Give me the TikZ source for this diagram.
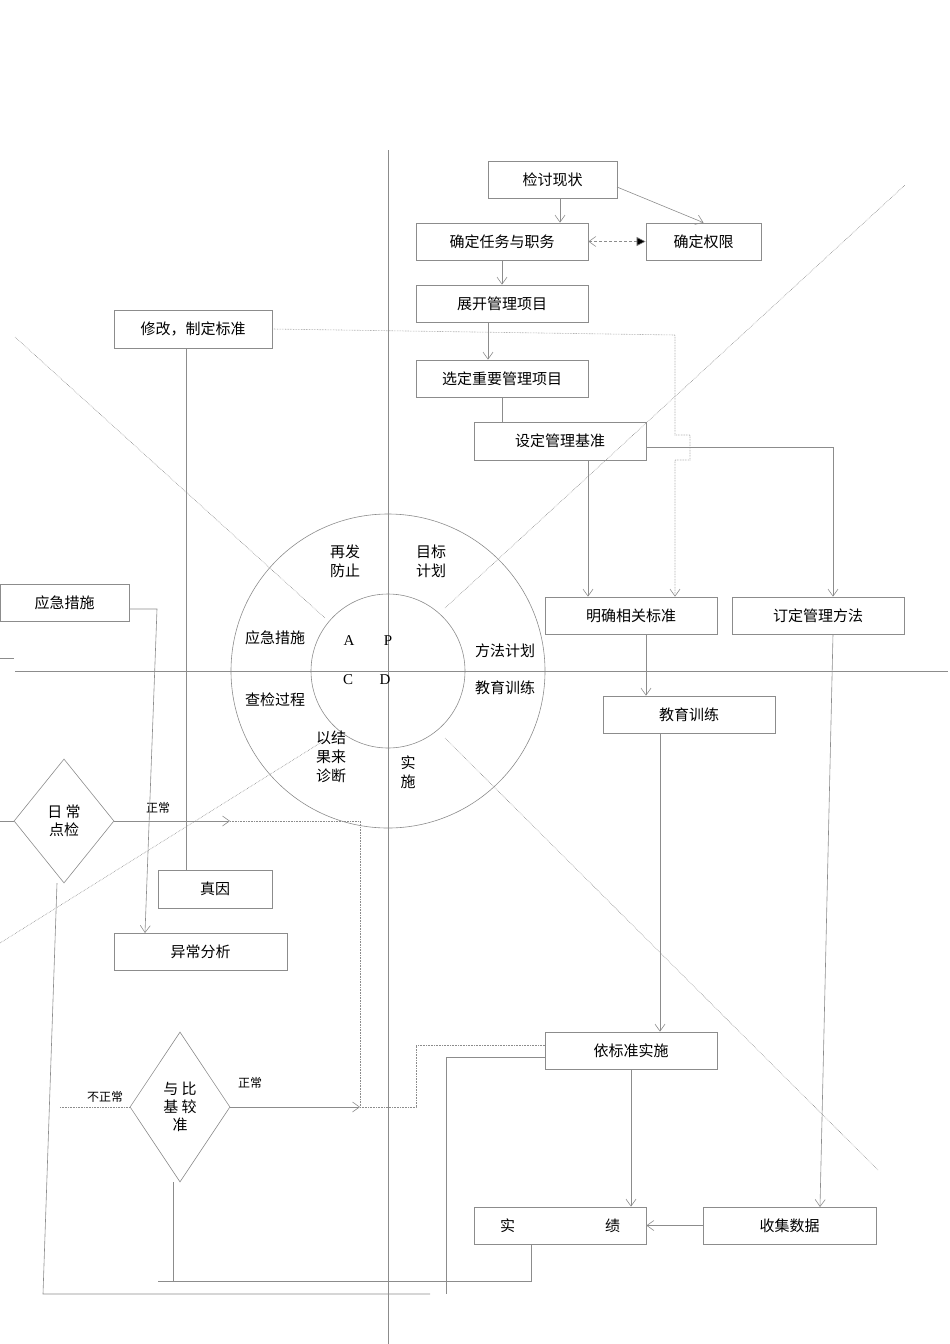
\documentclass[tikz,border=0pt]{standalone}
\usepackage{fontspec}
\setmainfont{Liberation Serif}
\newfontfamily\cjk{Noto Sans CJK SC}
\usetikzlibrary{arrows.meta,shapes.geometric}
\begin{document}
\begin{tikzpicture}[x=1pt,y=-1pt,
 ln/.style={draw=black!45,line width=0.6pt},
 dl/.style={draw=black!45,line width=0.6pt,densely dotted},
 ar/.style={-{Straight Barb[length=7pt,width=10pt]}},
 bx/.style={draw=black!45,line width=0.7pt,inner sep=0pt,font=\cjk\fontsize{15}{17}\selectfont},
 dm/.style={draw=black!45,line width=0.6pt,diamond,inner sep=0pt,font=\cjk\fontsize{15}{18}\selectfont,align=center},
 tx/.style={font=\cjk\fontsize{15}{19}\selectfont,align=center},
 sm/.style={font=\cjk\fontsize{12}{14}\selectfont}]
\useasboundingbox (0,0) rectangle (950,1344);
% axes and diagonals
\draw[ln] (388,150) -- (388,1344);
\draw[ln] (15,671) -- (948,671);
\draw[ln] (0,658) -- (14,658);
\draw[dl] (15,337) -- (325,618);
\draw[dl] (445,738) -- (878,1170);
\draw[dl] (445,608) -- (905,185);
\draw[dl] (325,740) -- (0,943);
\draw[ln] (388,671) circle (157);
\draw[ln] (388,671) circle (77);
% circle texts
\node[tx] (c1) at (345,561) {再发\\防止};
\node[tx] (c2) at (431,561) {目标\\计划};
\node[tx] (c3) at (275,638) {应急措施};
\node[tx] (c4) at (275,700) {查检过程};
\node[tx] (c5) at (505,651) {方法计划};
\node[tx] (c6) at (505,688) {教育训练};
\node[tx] (c7) at (331,757) {以结\\果来\\诊断};
\node[tx] (c8) at (408,772) {实\\施};
\node[font=\fontsize{15}{17}\selectfont] (lA) at (349,641) {A};
\node[font=\fontsize{15}{17}\selectfont] (lP) at (388,641) {P};
\node[font=\fontsize{15}{17}\selectfont] (lC) at (348,680) {C};
\node[font=\fontsize{15}{17}\selectfont] (lD) at (385,680) {D};
% boxes
\node[bx,minimum width=129,minimum height=37] (b1) at (552.5,179.5) {检讨现状};
\node[bx,minimum width=172,minimum height=37] (b2) at (502,241.5) {确定任务与职务};
\node[bx,minimum width=115,minimum height=37] (b3) at (703.5,241.5) {确定权限};
\node[bx,minimum width=172,minimum height=37] (b4) at (502,303.5) {展开管理项目};
\node[bx,minimum width=172,minimum height=37] (b5) at (502,378.5) {选定重要管理项目};
\node[bx,minimum width=172,minimum height=38] (b6) at (560,441) {设定管理基准};
\node[bx,minimum width=158,minimum height=38] (b7) at (193,329) {修改，制定标准};
\node[bx,minimum width=172,minimum height=37] (b8) at (631,615.5) {明确相关标准};
\node[bx,minimum width=172,minimum height=37] (b9) at (818,615.5) {订定管理方法};
\node[bx,minimum width=172,minimum height=37] (b10) at (689,714.5) {教育训练};
\node[bx,minimum width=129,minimum height=37] (b11) at (64.5,602.5) {应急措施};
\node[bx,minimum width=114,minimum height=38] (b12) at (215,889) {真因};
\node[bx,minimum width=173,minimum height=37] (b13) at (200.5,951.5) {异常分析};
\node[bx,minimum width=172,minimum height=37] (b14) at (631,1050.5) {依标准实施};
\node[bx,minimum width=172,minimum height=37] (b15) at (560,1225.5) {实\hspace{6em}绩};
\node[bx,minimum width=173,minimum height=37] (b16) at (789.5,1225.5) {收集数据};
\node[dm,minimum width=100,minimum height=124] (d1) at (64,821) {日 常\\点检};
\node[dm,minimum width=100,minimum height=150] (d2) at (180,1107) {与 比\\基 较\\准};
\node[sm] (t1) at (158,808) {正常};
\node[sm] (t2) at (250,1083) {正常};
\node[sm] (t3) at (105,1097) {不正常};
\coordinate (k1) at (230,821);
\coordinate (k2) at (360,1107);
% connectors
\draw[ln,ar] (b1.south -| 560,0) -- (b2.north -| 560,0);
\draw[ln,ar] (617,187) -- (b3.north);
\draw[ln,densely dashed,{Straight Barb[length=7pt,width=10pt]}-{Triangle[length=9pt,width=9pt,fill=black]}] (b2.east) -- (b3.west);
\draw[ln,ar] (b2.south) -- (b4.north);
\draw[ln,ar] (b4.south -| 488,0) -- (b5.north -| 488,0);
\draw[ln] (b5.south) -- (b6.north -| 502,0);
\draw[ln,ar] (b6.south -| 588,0) -- (b8.north -| 588,0);
\draw[ln,ar] (646,447) -- (833,447) -- (b9.north -| 833,0);
\draw[dl,ar] (b7.east) -- (675,335) -- (675,435) -- (690,435) -- (690,460) -- (675,460) -- (b8.north -| 675,0);
\draw[ln] (b7.south -| 186,0) -- (b12.north -| 186,0);
\draw[ln,ar] (b8.south -| 646,0) -- (b10.north -| 646,0);
\draw[ln,ar] (b10.south -| 660,0) -- (b14.north -| 660,0);
\draw[ln,ar] (833,634) -- (820,1207);
\draw[ln,ar] (b14.south) -- (b15.north -| 631,0);
\draw[ln,ar] (b16.west) -- (b15.east);
\draw[ln] (b15.south -| 531,0) -- (531,1281) -- (158,1281);
\draw[ln] (173,1182) -- (173,1281);
\draw[ln,ar] (d2.east) -- (k2);
\draw[dl] (k2) -- (416,1107) -- (416,1045) -- (b14.west |- 0,1045);
\draw[ln] (b14.west |- 0,1057) -- (446,1057) -- (446,1294);
\draw[ln] (57,883) -- (43,1294) -- (430,1294);
\draw[ln,ar] (d1.east) -- (k1);
\draw[dl] (k1) -- (360,821) -- (k2);
\draw[dl] (60,1107) -- (d2.west);
\draw[ln] (0,821) -- (d1.west);
\draw[ln,ar] (b11.east |- 0,609) -- (157,609) -- (145,933);
\end{tikzpicture}
\end{document}
